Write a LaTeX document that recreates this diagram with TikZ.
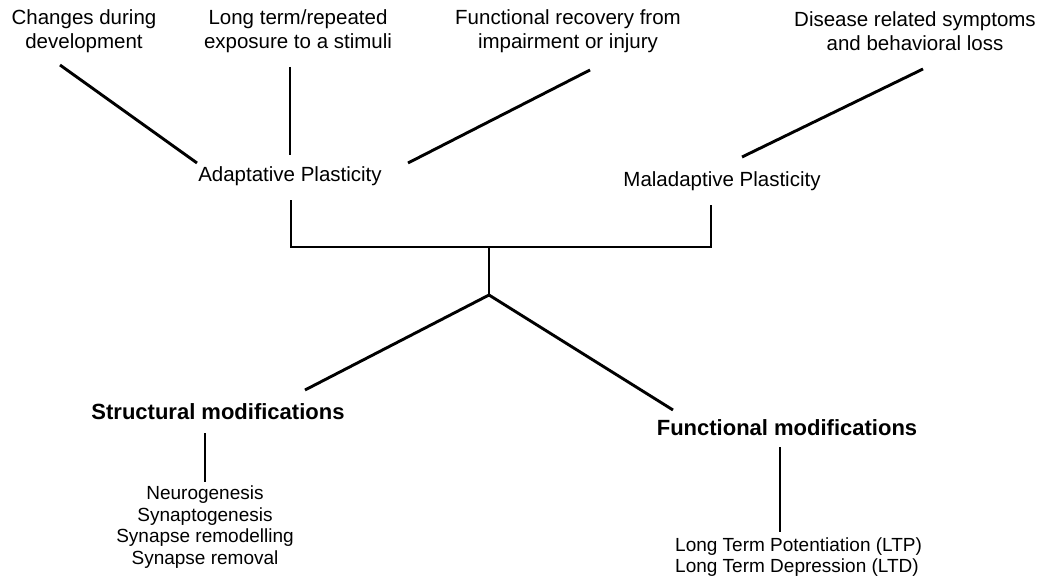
\documentclass[tikz,border=0pt]{standalone}
\usepackage{fontspec}
\setmainfont{Liberation Sans}
\usetikzlibrary{calc}
\begin{document}
\begin{tikzpicture}[x=1pt,y=-1pt,
  toplabel/.style={align=center,inner sep=0pt,font=\fontsize{20.5}{23.5}\selectfont},
  plast/.style={inner sep=0pt,font=\fontsize{20.5}{23.5}\selectfont},
  heading/.style={inner sep=0pt,font=\bfseries\fontsize{22}{26}\selectfont},
  listlabel/.style={align=center,inner sep=0pt,font=\fontsize{19}{21.7}\selectfont},
  ltplabel/.style={align=left,inner sep=0pt,font=\fontsize{19}{21}\selectfont},
  conn/.style={line width=2.9pt,line join=miter}]
\fill[white] (0,0) rectangle (1040,580);
\useasboundingbox (0,0) rectangle (1040,580);

\node[toplabel] (changes) at (84,31) {Changes during\\development};
\node[toplabel] (longterm) at (298,31) {Long term/repeated\\exposure to a stimuli};
\node[toplabel] (recovery) at (568,31) {Functional recovery from\\impairment or injury};
\node[toplabel] (disease) at (915,31) {Disease related symptoms\\and behavioral loss};

\node[plast] (adapt) at (290,176) {Adaptative Plasticity};
\node[plast] (malad) at (722,181) {Maladaptive Plasticity};

\node[heading] (structural) at (218,412) {Structural modifications};
\node[heading] (functional) at (787,428) {Functional modifications};

\node[listlabel] (list) at (205,527) {Neurogenesis\\Synaptogenesis\\Synapse remodelling\\Synapse removal};
\node[ltplabel,anchor=west] (ltp) at (675,557) {Long Term Potentiation (LTP)\\Long Term Depression (LTD)};

\coordinate (bar) at (489,247);
\coordinate (hub) at (489,295);

\draw[conn] ($(changes)+(-24,34)$) -- ($(adapt)+(-93,-13)$);
\draw[conn] ($(longterm)+(-8,36)$) -- ($(adapt)+(0,-21)$);
\draw[conn] ($(adapt)+(118,-13)$) -- ($(recovery)+(22,39)$);
\draw[conn] ($(malad)+(20,-24)$) -- ($(disease)+(8,38)$);

\draw[conn] ($(adapt)+(1,24)$) |- (bar) -| ($(malad)+(-11,24)$);
\draw[conn] (bar) -- (hub);
\draw[conn] (hub) -- ($(structural)+(87,-22)$);
\draw[conn] (hub) -- ($(functional)+(-114,-18)$);

\draw[conn] ($(structural)+(-13,21)$) -- ($(list)+(0,-45)$);
\draw[conn] ($(functional)+(-7,19)$) -- ($(ltp.west)+(105,-25)$);
\end{tikzpicture}
\end{document}
